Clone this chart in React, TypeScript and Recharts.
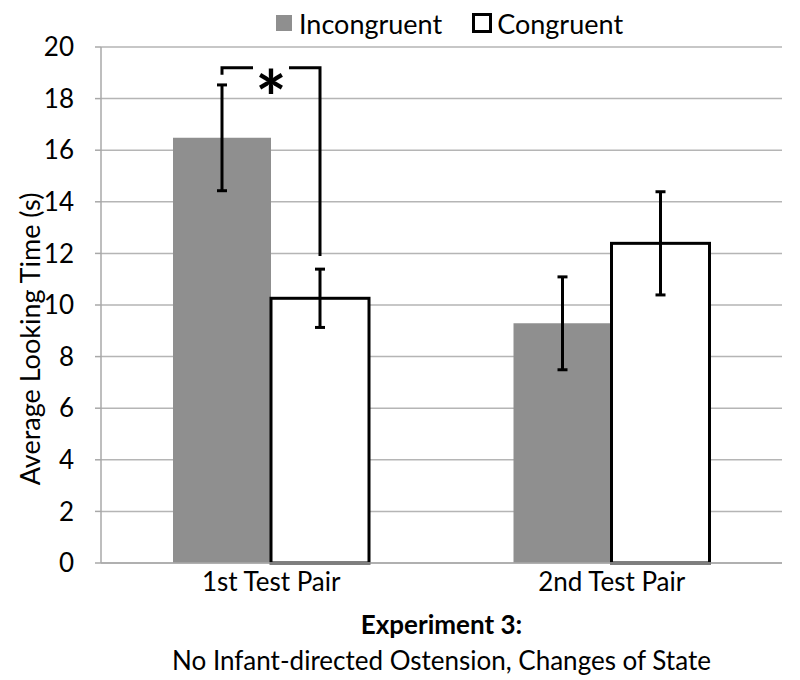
import { BarChart, Bar, XAxis, YAxis, CartesianGrid, ErrorBar, Legend } from 'recharts';

const categories = ['1st Test Pair', '2nd Test Pair'];
const incongruent = [16.48, 9.29];
const incongruentErr = [2.05, 1.8];
const congruent = [10.26, 12.39];
const congruentErr = [1.13, 2.0];
const yTicks = [0, 2, 4, 6, 8, 10, 12, 14, 16, 18, 20];
// significance bracket over the 1st pair
const sigTop = 19.2;
const sigEnd = 11.9;

const data = categories.map((name, i) => ({
  name,
  incongruent: incongruent[i],
  incongruentErr: incongruentErr[i],
  congruent: congruent[i],
  congruentErr: congruentErr[i],
  sig: i === 0,
}));

const font = 'Lato, "Open Sans", sans-serif';
const fs = 26;

function CongruentShape(props: any) {
  const { x, y, width, height, value, payload } = props;
  const perUnit = height / value;
  const yAt = (v: number) => y + height - v * perUnit;
  return (
    <g>
      <rect x={x} y={y} width={width} height={height} fill="#fff" stroke="#000" strokeWidth={3} />
      {payload.sig && (() => {
        const left = x - width / 2;
        const right = x + width / 2;
        const top = yAt(sigTop);
        const gap = 18;
        return (
          <g stroke="#000" strokeWidth={3} fill="none">
            <polyline points={`${left},${top + 7} ${left},${top} ${x - gap},${top}`} />
            <polyline points={`${x + gap},${top} ${right},${top} ${right},${yAt(sigEnd)}`} />
            <text x={x} y={top + 57} textAnchor="middle" fontSize={74} fontWeight="bold"
              fontFamily={font} fill="#000" stroke="none">*</text>
          </g>
        );
      })()}
    </g>
  );
}

function LegendContent() {
  return (
    <div style={{ height: 34, display: 'flex', alignItems: 'center', paddingLeft: 276, fontFamily: font, fontSize: 27, color: '#000' }}>
      <span style={{ width: 16, height: 16, background: '#8f8f8f', display: 'inline-block', marginRight: 7 }} />
      <span style={{ marginRight: 30 }}>Incongruent</span>
      <span style={{ width: 14, height: 14, border: '3px solid #000', display: 'inline-block', marginRight: 5, boxSizing: 'content-box' }} />
      <span>Congruent</span>
    </div>
  );
}

export default function App() {
  return (
    <div style={{ position: 'absolute', left: 0, top: 0, background: '#fff' }}>
      <BarChart width={800} height={680} data={data} barGap={0} barCategoryGap={72}
        margin={{ top: 13, right: 18, bottom: 57, left: 0 }}>
        <CartesianGrid vertical={false} stroke="#b5b5b5" strokeWidth={1.5} />
        <Legend verticalAlign="top" content={<LegendContent />} wrapperStyle={{ top: 6, left: 0, width: 800 }} />
        <XAxis dataKey="name" height={60} tickLine={false} axisLine={{ stroke: '#a8a8a8', strokeWidth: 1.5 }}
          tick={{ fontFamily: font, fontSize: fs, fill: '#000' }} tickMargin={4}
          label={{
            content: (p: any) => {
              const vb = p.viewBox;
              const cx = vb.x + vb.width / 2;
              return (
                <g fontFamily={font} fontSize={fs} fill="#000" textAnchor="middle">
                  <text x={cx} y={vb.y + 71} fontWeight="bold">Experiment 3:</text>
                  <text x={cx} y={vb.y + 107}>No Infant-directed Ostension, Changes of State</text>
                </g>
              );
            },
          }} />
        <YAxis width={101} domain={[0, 20]} ticks={yTicks} interval={0} tickSize={6} tickMargin={21}
          tickLine={{ stroke: '#a8a8a8', strokeWidth: 1.5 }} axisLine={{ stroke: '#a8a8a8', strokeWidth: 1.5 }}
          tick={{ fontFamily: font, fontSize: fs, fill: '#000' }}
          label={{
            content: (p: any) => {
              const vb = p.viewBox;
              const cx = vb.x + 29;
              const cy = vb.y + vb.height / 2 + 34;
              return (
                <text x={cx} y={cy} transform={`rotate(-90 ${cx} ${cy})`} textAnchor="middle"
                  dominantBaseline="central" fontFamily={font} fontSize={27} fill="#000">
                  Average Looking Time (s)
                </text>
              );
            },
          }} />
        <Bar dataKey="incongruent" name="Incongruent" fill="#8f8f8f" isAnimationActive={false}>
          <ErrorBar dataKey="incongruentErr" width={5} strokeWidth={3} stroke="#000" />
        </Bar>
        <Bar dataKey="congruent" name="Congruent" shape={<CongruentShape />} isAnimationActive={false}>
          <ErrorBar dataKey="congruentErr" width={5} strokeWidth={3} stroke="#000" />
        </Bar>
      </BarChart>
    </div>
  );
}
